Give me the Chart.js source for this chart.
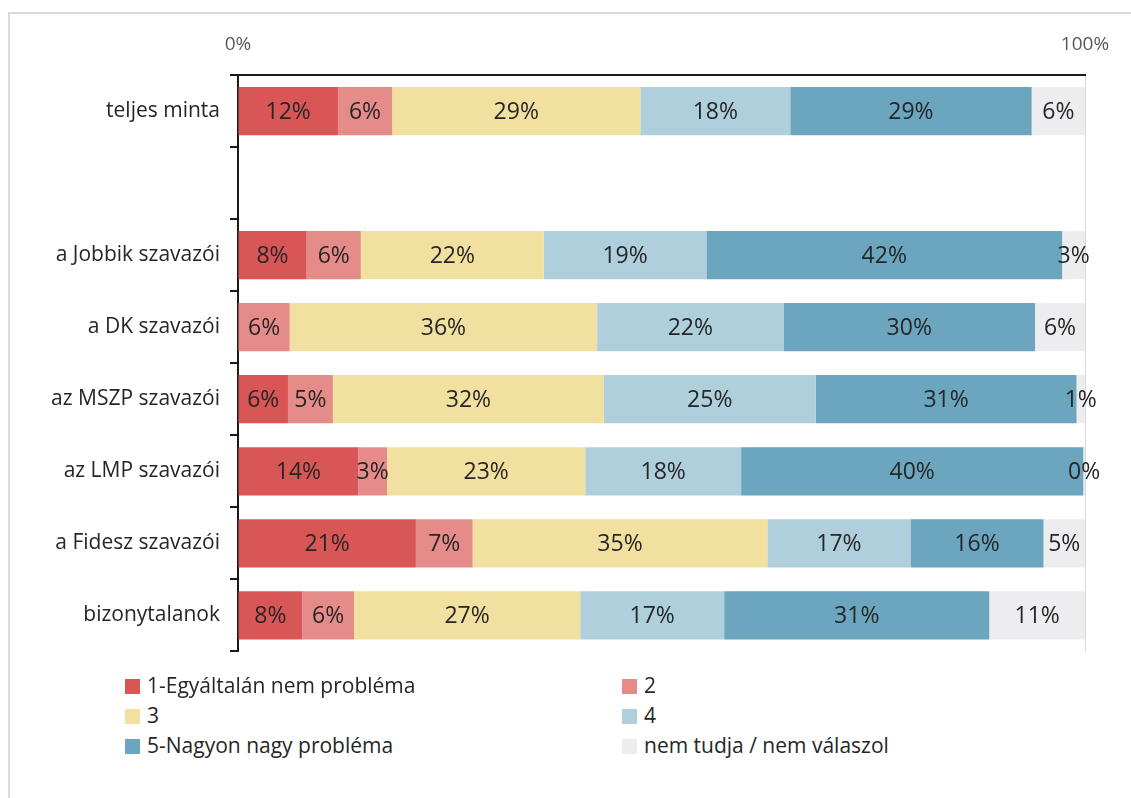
<!DOCTYPE html>
<html lang="hu">
  <head>
    <meta charset="UTF-8" />
    <title>Probléma megítélése</title>
    <style>
      body { margin: 0; background: #fff; font-family: "Open Sans", sans-serif; }
      #frame { position: absolute; left: 8px; top: 12px; width: 1140px; height: 800px; border: 2px solid #d9d9d9; }
      #wrap { position: absolute; left: 0; top: 0; width: 1131px; height: 674px; }
      #legend { position: absolute; left: 125px; top: 671px; width: 1000px; }
      .item { position: absolute; font-size: 21px; color: #262626; line-height: 28px; white-space: nowrap; }
      .item span { display: inline-block; width: 15px; height: 15px; margin-right: 7px; vertical-align: -1px; }
    </style>
  </head>
  <body>
    <div id="frame"></div>
    <div id="wrap"><canvas id="graphic"></canvas></div>
    <div id="legend"></div>
    <script src="https://cdn.jsdelivr.net/npm/chart.js"></script>
    <script>
      // kategóriák (üres sor a teljes minta után)
      const groups = ["teljes minta", "", "a Jobbik szavazói", "a DK szavazói", "az MSZP szavazói",
        "az LMP szavazói", "a Fidesz szavazói", "bizonytalanok"];
      const seriesNames = ["1-Egyáltalán nem probléma", "2", "3", "4", "5-Nagyon nagy probléma", "nem tudja / nem válaszol"];
      const colors = ["#d95656", "#e58c8a", "#f2e0a0", "#aecfdb", "#6ba6be", "#ededef"];

      const s1 = [11.8, null, 8.1, null, 5.9, 14.2, 21.0, 7.6];
      const s2 = [6.4, null, 6.4, 6.1, 5.3, 3.4, 6.7, 6.1];
      const s3 = [29.3, null, 21.6, 36.3, 32.0, 23.4, 34.8, 26.7];
      const s4 = [17.7, null, 19.2, 22.0, 25.0, 18.4, 16.9, 17.0];
      const s5 = [28.5, null, 42.0, 29.7, 30.8, 40.4, 15.7, 31.3];
      const s6 = [6.3, null, 2.7, 5.9, 1.0, 0.2, 4.9, 11.3];
      const series = [s1, s2, s3, s4, s5, s6];

      const xTicks = [0, 100];

      // százalék címkék a szeletek közepére
      const barLabels = {
        id: "barLabels",
        afterDatasetsDraw(chart) {
          const ctx = chart.ctx;
          ctx.save();
          ctx.font = '23px "Open Sans", sans-serif';
          ctx.fillStyle = "#262626";
          ctx.textAlign = "center";
          ctx.textBaseline = "middle";
          chart.data.datasets.forEach((ds, i) => {
            const meta = chart.getDatasetMeta(i);
            meta.data.forEach((bar, j) => {
              const v = ds.data[j];
              if (v === null || v === undefined) return;
              const p = bar.getProps(["x", "y", "base"], true);
              ctx.fillText(Math.round(v) + "%", (p.x + p.base) / 2, p.y + 1);
            });
          });
          ctx.restore();
        },
      };

      const lienzo = document.getElementById("graphic");
      new Chart(lienzo, {
        type: "bar",
        data: {
          labels: groups,
          datasets: series.map((d, i) => ({
            label: seriesNames[i],
            data: d,
            backgroundColor: colors[i],
            barPercentage: 0.67,
            categoryPercentage: 1,
          })),
        },
        options: {
          indexAxis: "y",
          responsive: true,
          maintainAspectRatio: false,
          animation: false,
          layout: { padding: { left: 8, right: 46, top: 0, bottom: 10 } },
          plugins: { legend: { display: false }, tooltip: { enabled: false } },
          scales: {
            x: {
              position: "top",
              stacked: true,
              min: 0,
              max: 100,
              afterBuildTicks: (s) => { s.ticks = xTicks.map((v) => ({ value: v })); },
              afterFit: (s) => { s.height = 75; },
              ticks: {
                padding: 19,
                color: "#595959",
                font: { family: "Open Sans", size: 19 },
                callback: (v) => v + "%",
              },
              grid: { color: "#d9d9d9", drawTicks: false },
              border: { color: "#1a1a1a", width: 2 },
            },
            y: {
              stacked: true,
              afterFit: (s) => { s.width = 230; },
              ticks: {
                padding: 10,
                color: "#262626",
                font: { family: "Open Sans", size: 21 },
              },
              grid: { offset: true, drawOnChartArea: false, tickLength: 8, color: "#1a1a1a", lineWidth: 2 },
              border: { color: "#1a1a1a", width: 2 },
            },
          },
        },
        plugins: [barLabels],
      });

      // kétoszlopos jelmagyarázat
      const legend = document.getElementById("legend");
      seriesNames.forEach((name, i) => {
        const el = document.createElement("div");
        el.className = "item";
        el.style.left = (i % 2 === 0 ? 0 : 497) + "px";
        el.style.top = Math.floor(i / 2) * 30 + "px";
        el.innerHTML = '<span style="background:' + colors[i] + '"></span>' + name;
        legend.appendChild(el);
      });
    </script>
  </body>
</html>
